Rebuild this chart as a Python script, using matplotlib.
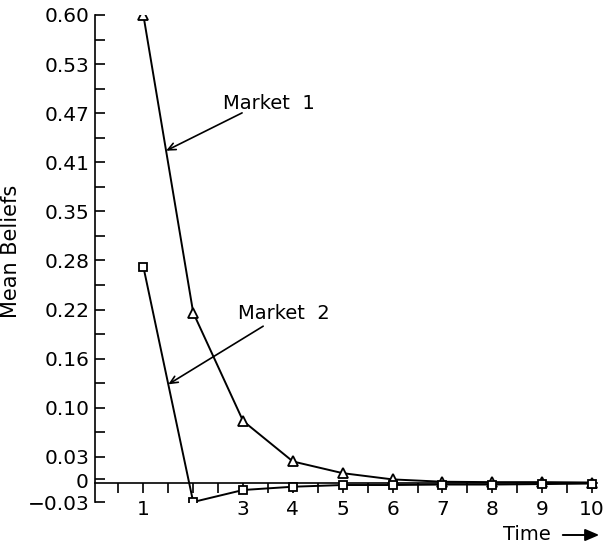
import numpy as np
import matplotlib
matplotlib.use("Agg")
import matplotlib.pyplot as plt

# ---- data ----
time = [1, 2, 3, 4, 5, 6, 7, 8, 9, 10]
market1 = [0.600, 0.218, 0.079, 0.027, 0.012, 0.004, 0.001, 0.0005, 0.0005, 0.0]
market2 = [0.277, -0.025, -0.0096, -0.0054, -0.0032, -0.0032, -0.0026, -0.0026, -0.002, -0.0013]

ytick_labels = ["0.60", "0.53", "0.47", "0.41", "0.35", "0.28", "0.22", "0.16", "0.10", "0.03", "\u22120.03"]
xtick_labels = ["1", "", "3", "4", "5", "6", "7", "8", "9", "10"]
series_names = ["Market 1", "Market 2"]

# ---- figure ----
fig = plt.figure(figsize=(6.06, 5.47), dpi=100)
L, R, T, B = 95, 597, 15, 502
W, H = 606, 547
ax = fig.add_axes([L / W, 1 - B / H, (R - L) / W, (B - T) / H])

ax.plot(time, market1, color="black", lw=1.4, marker="^", ms=6.5,
        mfc="white", mec="black", mew=1.3, zorder=3)
ax.plot(time, market2, color="black", lw=1.4, marker="s", ms=6,
        mfc="white", mec="black", mew=1.3, zorder=3)

ymin = -0.025
ax.set_xlim(0.03, 10.1)
ax.set_ylim(ymin, 0.60)

# y ticks: evenly spaced by 0.063 from 0.60, last one at axis bottom
ypos = [0.60 - 0.063 * k for k in range(10)] + [ymin]
ax.set_yticks(ypos)
ax.set_yticklabels(ytick_labels)
yminor = [(ypos[k] + ypos[k + 1]) / 2 for k in range(len(ypos) - 1)]
ax.set_yticks(yminor, minor=True)

ax.set_xticks(time)
ax.set_xticklabels(xtick_labels)
ax.set_xticks(np.arange(0.5, 10.01, 1.0), minor=True)

for s in ["top", "right"]:
    ax.spines[s].set_visible(False)
ax.spines["bottom"].set_position(("data", 0))
ax.spines["left"].set_linewidth(1.2)
ax.spines["bottom"].set_linewidth(1.2)

ax.tick_params(axis="y", which="both", direction="in", length=7.5, width=1.2,
               labelsize=14.5, pad=4)
ax.tick_params(axis="x", which="both", direction="out", length=7.5, width=1.2,
               labelsize=14.5, pad=5)

# extra "0" label on the y axis at the zero line
ax.text(-0.012, 0, "0", transform=ax.get_yaxis_transform(), ha="right",
        va="center", fontsize=14.5)

fig.text(11 / W, 1 - 251 / H, "Mean Beliefs", rotation=90, ha="center",
         va="center", fontsize=15)

# annotations: arrow tips lie on the first segment of each series
def on_segment(xs, ys, frac):
    return (xs[0] + frac * (xs[1] - xs[0]), ys[0] + frac * (ys[1] - ys[0]))

tip1 = on_segment(time, market1, 0.456)
tip2 = on_segment(time, market2, 0.50)
arrowprops = dict(arrowstyle="->,head_length=0.55,head_width=0.25", color="black", lw=1.2,
                  shrinkA=0, shrinkB=0)
ax.annotate("", xy=tip1, xycoords="data", xytext=(0.293, 0.799),
            textcoords="axes fraction", arrowprops=arrowprops)
ax.annotate("", xy=tip2, xycoords="data", xytext=(0.335, 0.361),
            textcoords="axes fraction", arrowprops=arrowprops)
ax.text(0.346, 0.819, series_names[0].replace(" ", "  "), transform=ax.transAxes,
        ha="center", va="center", fontsize=14)
ax.text(0.376, 0.388, series_names[1].replace(" ", "  "), transform=ax.transAxes,
        ha="center", va="center", fontsize=14)

# Time label with arrow
fig.text(527 / W, 1 - 534 / H, "Time", ha="center", va="center", fontsize=14)
fig.add_artist(matplotlib.patches.FancyArrowPatch(
    (560 / W, 1 - 535 / H), (602 / W, 1 - 535 / H), transform=fig.transFigure,
    arrowstyle="-|>,head_length=0.7,head_width=0.3", color="black", lw=1.4,
    mutation_scale=12))

fig.savefig("out.png", dpi=100)
